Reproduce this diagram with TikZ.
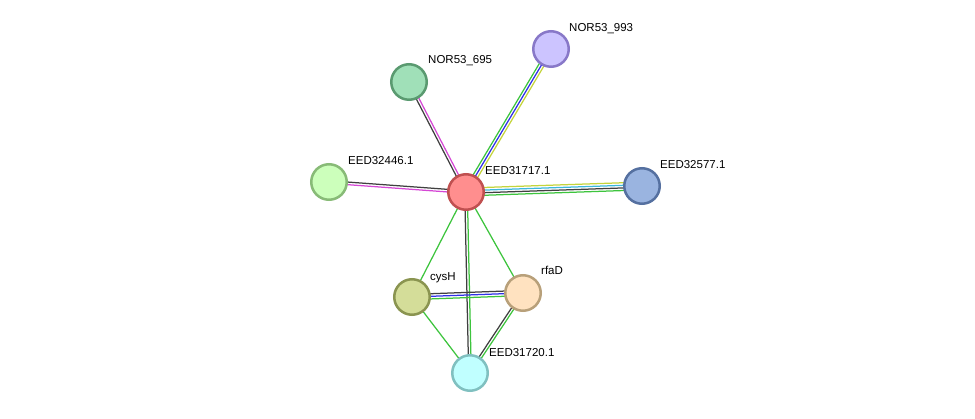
\documentclass[tikz,border=0pt]{standalone}
\usepackage{fontspec}
\setmainfont{Liberation Sans}
\usetikzlibrary{calc,backgrounds}

\definecolor{lnkgreen}{HTML}{3DC43D}
\definecolor{lnkblue}{HTML}{3030E8}
\definecolor{lnkyellow}{HTML}{C4D43C}
\definecolor{lnkblack}{HTML}{404040}
\definecolor{lnkmagenta}{HTML}{D548D5}
\definecolor{lnkcyan}{HTML}{3CB8DC}

\tikzset{
  prot/.style={circle, line width=2.5pt, minimum size=35.5pt, inner sep=0pt},
  plabel/.style={anchor=base west, inner sep=0pt, font=\fontsize{11.5}{13}\selectfont},
  link/.style={line width=1.25pt}
}

% parallel lines between two proteins, first colour on the left of #1->#2
\newcommand{\edgelines}[3]{%
  \foreach \c [count=\i] in {#3} {\xdef\nlines{\i}}
  \foreach \c [count=\i] in {#3} {
    \pgfmathsetmacro{\off}{((\nlines+1)/2-\i)*2.6}
    \draw[link,\c] ($(#1)!\off pt!90:(#2)$) -- ($(#2)!\off pt!-90:(#1)$);
  }}

\begin{document}
\begin{tikzpicture}[x=1pt,y=-1pt]
\useasboundingbox (0,0) rectangle (975,419);

% proteins
\node[prot, fill={rgb,255:red,255;green,142;blue,142}, draw={rgb,255:red,192;green,80;blue,80}] (eed31717) at (466,192) {};
\node[prot, fill={rgb,255:red,160;green,224;blue,184}, draw={rgb,255:red,90;green,154;blue,112}] (nor695) at (409,82) {};
\node[prot, fill={rgb,255:red,204;green,196;blue,255}, draw={rgb,255:red,136;green,120;blue,200}] (nor993) at (551,49) {};
\node[prot, fill={rgb,255:red,204;green,255;blue,187}, draw={rgb,255:red,136;green,187;blue,119}] (eed32446) at (329,182) {};
\node[prot, fill={rgb,255:red,154;green,180;blue,224}, draw={rgb,255:red,85;green,112;blue,160}] (eed32577) at (642,186) {};
\node[prot, fill={rgb,255:red,212;green,221;blue,153}, draw={rgb,255:red,138;green,148;blue,80}] (cysh) at (412,297) {};
\node[prot, fill={rgb,255:red,255;green,226;blue,192}, draw={rgb,255:red,184;green,160;blue,122}] (rfad) at (523,293) {};
\node[prot, fill={rgb,255:red,192;green,255;blue,255}, draw={rgb,255:red,128;green,192;blue,192}] (eed31720) at (470,373) {};

% labels
\node[plabel] (leed31717) at (485,175) {EED31717.1};
\node[plabel] (lnor695) at (428,64) {NOR53\_695};
\node[plabel] (lnor993) at (569,32) {NOR53\_993};
\node[plabel] (leed32446) at (348,165) {EED32446.1};
\node[plabel] (leed32577) at (660,169) {EED32577.1};
\node[plabel] (lcysh) at (430,281) {cysH};
\node[plabel] (lrfad) at (541,275) {rfaD};
\node[plabel] (leed31720) at (489,357) {EED31720.1};

% links
\begin{pgfonlayer}{background}
\edgelines{eed31717}{nor695}{lnkblack,lnkmagenta}
\edgelines{eed31717}{nor993}{lnkgreen,lnkblue,lnkyellow}
\edgelines{eed31717}{eed32446}{lnkmagenta,lnkblack}
\edgelines{eed31717}{eed32577}{lnkyellow,lnkcyan,lnkblack,lnkgreen}
\edgelines{eed31717}{cysh}{lnkgreen}
\edgelines{eed31717}{rfad}{lnkgreen}
\edgelines{eed31717}{eed31720}{lnkgreen,lnkblack}
\edgelines{cysh}{rfad}{lnkblack,lnkblue,lnkgreen}
\edgelines{cysh}{eed31720}{lnkgreen}
\edgelines{rfad}{eed31720}{lnkgreen,lnkblack}
\end{pgfonlayer}
\end{tikzpicture}
\end{document}
